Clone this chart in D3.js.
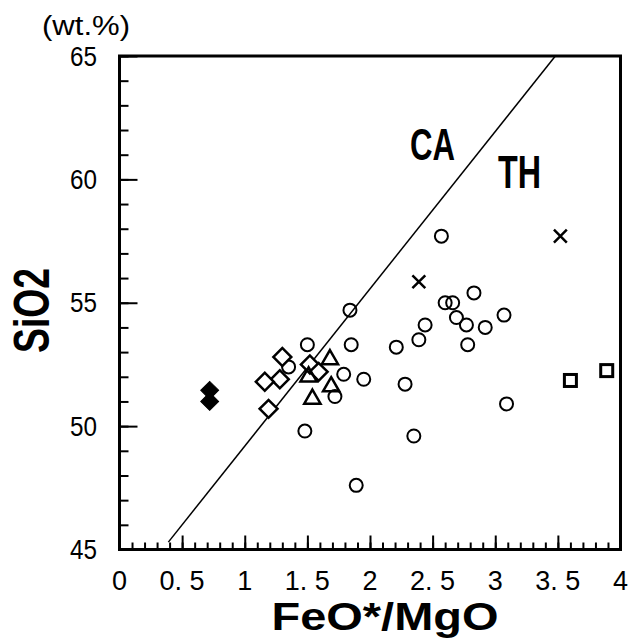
<!DOCTYPE html>
<html>
<head>
<meta charset="utf-8">
<script src="https://cdn.jsdelivr.net/npm/d3@7"></script>
<style>
  body { margin: 0; background: #fff; }
  text { font-family: "Liberation Sans", Arial, sans-serif; fill: #000; }
</style>
</head>
<body>
<script>
// FeO*/MgO vs SiO2 data
var circleX = [2.57, 1.84, 2.83, 2.60, 2.66, 2.69, 2.77, 2.92, 3.07, 2.44, 2.39, 2.21, 2.78, 2.28, 2.35, 3.09, 1.89, 1.95, 1.85, 1.79, 1.72, 1.48, 1.50, 1.35];
var circleY = [57.7, 54.7, 55.4, 55.0, 55.0, 54.4, 54.1, 54.0, 54.5, 54.1, 53.5, 53.2, 53.3, 51.7, 49.6, 50.9, 47.6, 51.9, 53.3, 52.1, 51.2, 49.8, 53.3, 52.4];
var diamondX = [1.30, 1.28, 1.16, 1.19, 1.52, 1.59];
var diamondY = [52.8, 51.9, 51.8, 50.7, 52.5, 52.2];
var filledDiamondX = [0.72, 0.72];
var filledDiamondY = [51.45, 51.0];
var triangleX = [1.68, 1.51, 1.54, 1.69];
var triangleY = [52.7, 52.0, 51.1, 51.6];
var squareX = [3.60, 3.89];
var squareY = [51.85, 52.25];
var crossX = [2.39, 3.52];
var crossY = [55.85, 57.7];
// CA / TH dividing line
var caLineX = [0.39, 3.48];
var caLineY = [45.3, 65];

var xLabels = [0, 0.5, 1, 1.5, 2, 2.5, 3, 3.5, 4];
var yLabels = [45, 50, 55, 60, 65];

function init(){
    var svg = d3.select("body").append("svg")
        .attr("width", 630)
        .attr("height", 644);

    var x = d3.scaleLinear().domain([0, 4]).range([119.5, 620.5]);
    var y = d3.scaleLinear().domain([45, 65]).range([549.5, 56]);

    // ticks point inward
    svg.append("g")
        .attr("transform", "translate(0," + y(45) + ")")
        .call(d3.axisBottom(x).tickValues(d3.range(0, 4.01, 0.1)).tickSize(-7).tickFormat(""));
    svg.append("g")
        .attr("transform", "translate(0," + y(45) + ")")
        .call(d3.axisBottom(x).tickValues(xLabels).tickSize(-14).tickFormat(""));
    svg.append("g")
        .attr("transform", "translate(" + x(0) + ",0)")
        .call(d3.axisLeft(y).tickValues(d3.range(45, 65.1, 1)).tickSize(-9).tickFormat(""));
    svg.append("g")
        .attr("transform", "translate(" + x(0) + ",0)")
        .call(d3.axisLeft(y).tickValues(yLabels).tickSize(-18).tickFormat(""));
    svg.selectAll(".domain").remove();
    svg.selectAll(".tick line").attr("stroke", "#000").attr("stroke-width", 2);

    // frame
    svg.append("rect")
        .attr("x", x(0)).attr("y", y(65))
        .attr("width", x(4) - x(0)).attr("height", y(45) - y(65))
        .attr("fill", "none").attr("stroke", "#000").attr("stroke-width", 3);

    // tick labels
    svg.selectAll(".xl").data(xLabels).enter().append("text")
        .attr("x", function(d){ return x(d); })
        .attr("y", 590)
        .attr("text-anchor", "middle")
        .attr("font-size", 27)
        .text(function(d){ return d % 1 ? d.toFixed(1).replace(".", ". ") : d; });

    svg.selectAll(".yl").data(yLabels).enter().append("text")
        .attr("x", 97)
        .attr("y", function(d){ return y(d); })
        .attr("dy", "0.36em")
        .attr("text-anchor", "end")
        .attr("font-size", 27)
        .attr("textLength", 27)
        .attr("lengthAdjust", "spacingAndGlyphs")
        .text(function(d){ return d; });

    // titles
    svg.append("text")
        .attr("x", 42).attr("y", 35)
        .attr("font-size", 27)
        .attr("textLength", 88)
        .attr("lengthAdjust", "spacingAndGlyphs")
        .text("(wt.%)");
    svg.append("text")
        .attr("transform", "translate(49,310.5) rotate(-90)")
        .attr("text-anchor", "middle")
        .attr("font-size", 50)
        .attr("font-weight", "bold")
        .attr("textLength", 85)
        .attr("lengthAdjust", "spacingAndGlyphs")
        .text("SiO2");
    svg.append("text")
        .attr("x", 385).attr("y", 630)
        .attr("text-anchor", "middle")
        .attr("font-size", 38)
        .attr("font-weight", "bold")
        .attr("textLength", 227)
        .attr("lengthAdjust", "spacingAndGlyphs")
        .text("FeO*/MgO");

    // CA-TH line
    var line = d3.line()
        .x(function(d){ return x(d[0]); })
        .y(function(d){ return y(d[1]); });
    svg.append("path")
        .attr("d", line(d3.zip(caLineX, caLineY)))
        .attr("fill", "none").attr("stroke", "#000").attr("stroke-width", 1.5);

    svg.append("text")
        .attr("x", 410).attr("y", 160)
        .attr("font-size", 44)
        .attr("font-weight", "bold")
        .attr("textLength", 45)
        .attr("lengthAdjust", "spacingAndGlyphs")
        .text("CA");
    svg.append("text")
        .attr("x", 498).attr("y", 188)
        .attr("font-size", 46)
        .attr("font-weight", "bold")
        .attr("textLength", 43)
        .attr("lengthAdjust", "spacingAndGlyphs")
        .text("TH");

    // markers
    svg.selectAll(".circ").data(d3.zip(circleX, circleY)).enter().append("circle")
        .attr("cx", function(d){ return x(d[0]); })
        .attr("cy", function(d){ return y(d[1]); })
        .attr("r", 6.5)
        .attr("fill", "none").attr("stroke", "#000").attr("stroke-width", 2);

    var diamond = d3.symbol().type(d3.symbolSquare).size(160);
    svg.selectAll(".dia").data(d3.zip(diamondX, diamondY)).enter().append("path")
        .attr("d", diamond)
        .attr("transform", function(d){ return "translate(" + x(d[0]) + "," + y(d[1]) + ") rotate(45)"; })
        .attr("fill", "#fff").attr("stroke", "#000").attr("stroke-width", 2.5);

    svg.selectAll(".fdia").data(d3.zip(filledDiamondX, filledDiamondY)).enter().append("path")
        .attr("d", diamond)
        .attr("transform", function(d){ return "translate(" + x(d[0]) + "," + y(d[1]) + ") rotate(45)"; })
        .attr("fill", "#000").attr("stroke", "#000").attr("stroke-width", 1);

    var tri = d3.symbol().type(d3.symbolTriangle).size(115);
    svg.selectAll(".tri").data(d3.zip(triangleX, triangleY)).enter().append("path")
        .attr("d", tri)
        .attr("transform", function(d){ return "translate(" + x(d[0]) + "," + y(d[1]) + ")"; })
        .attr("fill", "none").attr("stroke", "#000").attr("stroke-width", 2.5);

    svg.selectAll(".sq").data(d3.zip(squareX, squareY)).enter().append("rect")
        .attr("x", function(d){ return x(d[0]) - 6; })
        .attr("y", function(d){ return y(d[1]) - 6; })
        .attr("width", 12).attr("height", 12)
        .attr("fill", "none").attr("stroke", "#000").attr("stroke-width", 3);

    var cross = d3.symbol().type(d3.symbolTimes).size(110);
    svg.selectAll(".cr").data(d3.zip(crossX, crossY)).enter().append("path")
        .attr("d", cross)
        .attr("transform", function(d){ return "translate(" + x(d[0]) + "," + y(d[1]) + ")"; })
        .attr("fill", "none").attr("stroke", "#000").attr("stroke-width", 2.5);
}

window.onload = init;
</script>
</body>
</html>
